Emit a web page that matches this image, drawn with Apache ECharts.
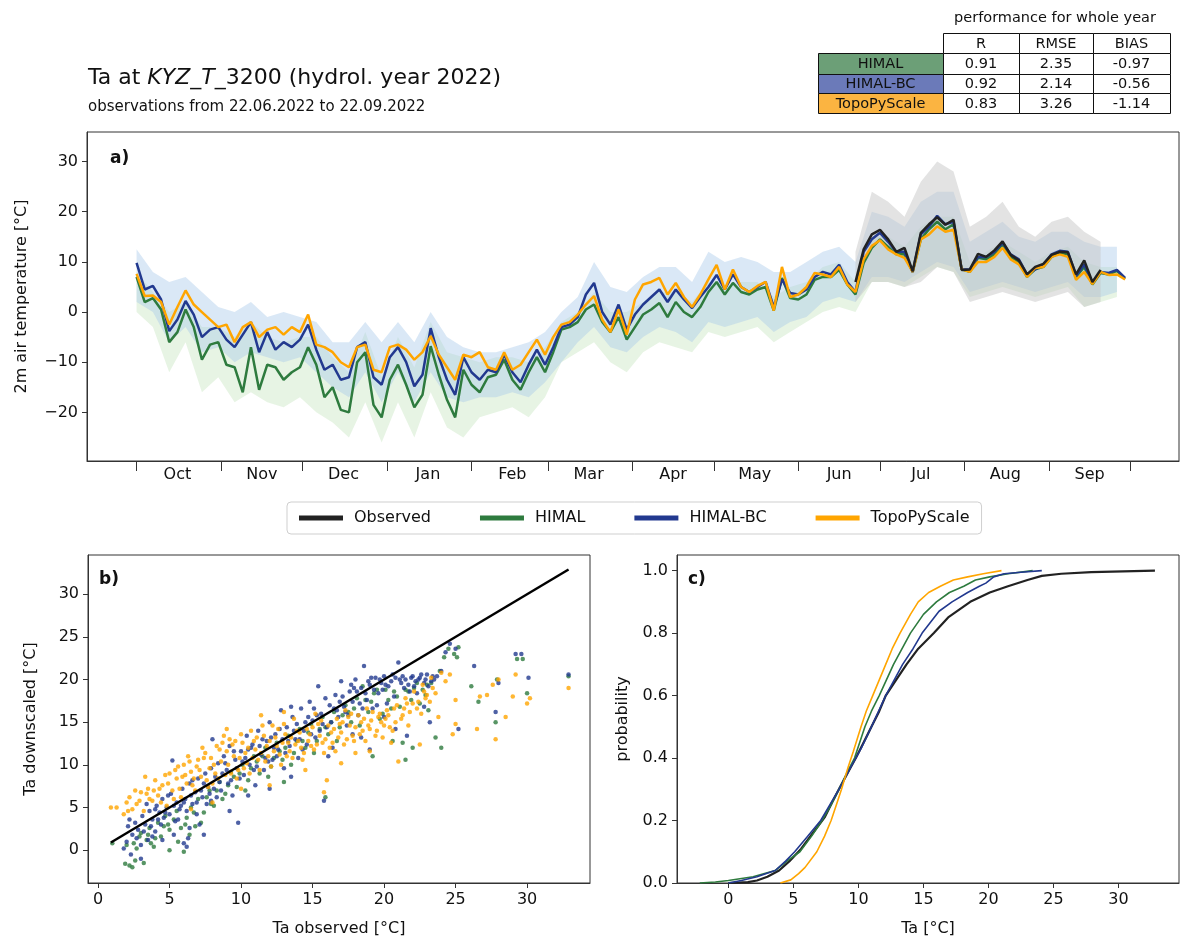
<!DOCTYPE html>
<html>
<head>
<meta charset="utf-8">
<script src="https://cdn.jsdelivr.net/npm/echarts@6.0.0/dist/echarts.min.js"></script>
<style>
  html, body { margin: 0; padding: 0; background: #fff; }
  #chart { width: 1182px; height: 943px; }
</style>
</head>
<body>
<div id="chart"></div>
<script>
const FONT = 'DejaVu Sans';
const C_OBS = '#222222';
const C_HIMAL = '#2e7b3e';
const C_BC = '#22398f';
const C_TOPO = '#ffa500';

// panel a: daily means, read every 3 days starting 1 Oct 2021 (day 0)
const LINE_STEP = 3;
const himalBC = [9.8, 4.5, 5.2, 2.5, -3.8, -1.5, 2.2, -0.5, -5.0, -3.5, -3.0, -5.5, -7.0, -4.5, -2.0, -8.0, -4.0, -7.5, -6.0, -7.0,
  -5.5, -2.5, -7.5, -11.5, -10.5, -13.5, -13.0, -7.0, -6.0, -13.0, -14.5, -9.0, -7.0, -10.0, -14.8, -12.5, -3.2, -9.0, -13.5, -16.5,
  -9.0, -12.0, -13.5, -11.5, -12.0, -8.5, -12.0, -14.0, -10.5, -7.5, -10.5, -7.0, -3.0, -2.5, -1.0, 3.5, 5.8, 0.0, -2.5, 1.5,
  -3.5, -0.5, 1.5, 3.0, 4.5, 2.0, 4.5, 2.5, 0.8, 3.0, 5.0, 7.4, 4.5, 7.5, 5.0, 4.0, 5.0, 6.0, 1.0, 6.5,
  3.8, 3.5, 4.5, 7.0, 8.0, 7.5, 9.4, 6.0, 4.0, 12.0, 14.5, 15.8, 14.0, 12.0, 12.0, 8.0, 15.5, 17.0, 19.2, 17.5,
  18.0, 8.5, 8.5, 11.0, 11.0, 12.0, 13.8, 11.5, 10.5, 7.5, 8.5, 9.5, 11.5, 12.2, 12.0, 7.2, 9.5, 5.8, 8.0, 7.8,
  8.4, 6.8];
const himal = [7.0, 2.0, 2.8, 0.5, -6.0, -4.0, 0.5, -3.0, -9.5, -6.5, -6.0, -10.5, -11.0, -16.0, -7.0, -15.5, -10.5, -11.0, -13.5, -12.0,
  -11.0, -7.0, -10.5, -17.0, -15.0, -19.5, -20.0, -10.0, -8.0, -18.5, -21.0, -13.5, -10.5, -14.5, -19.0, -16.5, -6.8, -12.5, -17.5, -21.0,
  -11.5, -14.5, -16.0, -13.0, -12.5, -9.5, -13.5, -15.5, -12.0, -9.0, -12.0, -8.0, -3.5, -3.0, -2.0, 0.5, 1.5, -2.0, -4.0, -1.0,
  -5.5, -3.0, -0.5, 0.5, 1.8, -1.0, 2.0, 0.0, -1.0, 1.0, 4.0, 6.0, 3.5, 5.8, 4.0, 3.5, 4.5, 5.0, 0.3, 6.8,
  2.8, 2.5, 3.5, 6.4, 7.0, 7.0, 8.4, 5.5, 3.5, 9.8, 12.8, 14.5, 13.0, 11.5, 11.5, 8.0, 14.5, 16.5, 18.0, 16.5,
  17.5, 8.5, 8.0, 10.8, 10.5, 11.5, 13.5, 11.0, 10.0, 7.0, 8.5, 9.0, 11.0, 11.8, 11.5, 7.0, 9.0, 5.5, 7.8, 7.5,
  8.2, 6.6];
const topo = [7.6, 3.2, 3.3, 2.0, -2.5, 1.0, 4.3, 1.5, 0.0, -1.5, -3.0, -2.5, -6.0, -3.0, -2.0, -5.0, -3.5, -3.0, -4.5, -3.0,
  -4.0, -0.5, -6.5, -7.0, -8.0, -10.0, -11.0, -7.0, -6.5, -11.5, -12.0, -7.0, -6.5, -7.5, -9.5, -8.0, -4.8, -8.5, -11.0, -13.5,
  -8.5, -9.0, -8.0, -11.0, -11.5, -8.0, -11.5, -10.5, -8.0, -5.5, -8.5, -5.0, -2.5, -2.0, -0.5, 1.5, 3.2, -1.5, -4.0, 0.5,
  -4.5, 2.5, 5.5, 6.0, 6.8, 3.5, 5.8, 3.0, 1.0, 3.5, 6.5, 9.4, 4.5, 8.5, 5.0, 4.0, 5.2, 6.0, 0.3, 9.0,
  3.0, 3.5, 5.0, 7.8, 7.5, 7.0, 9.0, 5.5, 4.0, 10.5, 13.2, 14.3, 12.5, 11.5, 10.8, 8.0, 14.5, 15.5, 17.1, 16.0,
  16.4, 8.5, 8.0, 10.0, 10.0, 11.0, 12.8, 10.5, 9.5, 7.0, 8.8, 9.0, 11.0, 11.5, 11.0, 6.4, 8.0, 5.6, 8.0, 7.4,
  7.5, 6.5];
const OBS_START = 264; // 22.06.2022
const observed = [6.0, 12.5, 15.5, 16.4, 14.5, 12.0, 12.8, 8.1, 15.8, 17.5, 18.9, 17.4, 18.4, 8.4, 8.5, 11.6, 11.0, 12.3, 14.1, 11.4,
  10.3, 7.5, 9.0, 9.6, 11.4, 12.0, 11.9, 7.5, 10.3, 6.0, 8.4];

// spread of the hourly values, read every 6 days
const BAND_STEP = 6;
const bcLo = [2, 0, -6, -3, -8, -7, -10, -8, -9, -10, -9, -12, -15, -17, -12, -18, -12, -18, -12, -17,
  -18, -17, -17, -16, -17, -14, -10, -6, -3, -7, -8, -5, -3, -4, -6, -2, -3, -2, -1, -4,
  -2, -1, 2, 3, 2, 7, 7, 6, 8, 10, 9, 4, 5, 6, 5, 4, 5, 6, 3, 3, 4];
const bcHi = [12.5, 8, 6, 7, 4, 1, 0, 2, -1, 0, -1, -2, -6, -6, -2, -6, -2, -6, 0, -5,
  -7, -8, -8, -7, -6, -4, 0, 3, 10, 5, 4, 7, 9, 9, 6, 12, 10, 11, 10, 8,
  8, 10, 12, 13, 10, 20, 19, 17, 22, 24, 24, 14, 16, 18, 15, 14, 16, 16, 14, 13, 13];
const himalLo = [0, -3, -12, -6, -16, -13, -18, -16, -18, -19, -17, -20, -22, -25, -18, -26, -18, -25, -16, -23,
  -25, -21, -20, -19, -21, -17, -10, -8, -6, -10, -12, -8, -6, -7, -8, -4, -5, -4, -3, -6,
  -4, -2, 0, 1, 0, 6, 6, 5, 7, 9, 8, 3, 4, 5, 4, 3, 4, 5, 1, 2, 3];
const himalHi = [8, 4, 0, 2, -3, -3, -5, -2, -5, -6, -5, -5, -9, -12, -4, -13, -5, -11, -2, -8,
  -9, -10, -9, -9, -10, -7, -2, 0, 4, 0, 0, 2, 4, 4, 2, 6, 5, 6, 6, 3,
  5, 6, 9, 10, 6, 15, 15, 13, 17, 19, 19, 10, 12, 14, 12, 10, 12, 13, 10, 9, 9];
const obsLo = [2, 6, 6, 5, 6, 9, 8, 2, 3, 4, 3, 2, 3, 4, 1, 2];
const obsHi = [12, 24, 22, 19, 26, 30, 28, 17, 19, 22, 17, 15, 18, 19, 16, 14];

// panel b: downscaled vs observed
const scatHimal = [[1.0,0.8],[1.9,-1.6],[2.0,0.6],[2.2,-1.8],[2.4,-2.0],[2.6,-1.2],[2.7,0.2],[2.9,1.6],[3.2,-1.5],[3.4,1.2],
  [3.6,2.6],[3.9,0.4],[4.2,3.2],[4.4,1.6],[4.7,4.0],[5.0,2.4],[5.3,3.6],[5.6,1.0],[5.8,2.6],[6.0,-0.2],
  [6.2,3.8],[6.5,5.0],[6.8,2.8],[7.0,6.0],[7.4,4.4],[7.8,7.0],[8.1,5.2],[8.5,8.0],[8.9,6.6],[9.3,9.2],
  [9.7,7.4],[10.1,10.0],[10.5,8.2],[10.9,11.0],[11.3,9.0],[11.7,12.0],[12.1,9.8],[12.5,12.6],[12.9,10.6],[13.3,13.4],
  [13.7,11.4],[14.1,14.2],[14.5,12.0],[14.9,14.8],[15.3,12.8],[15.7,15.6],[16.1,13.6],[16.5,16.2],[16.9,14.4],[17.3,17.0],
  [17.7,15.0],[18.1,17.8],[18.5,19.2],[18.9,16.2],[19.3,18.4],[19.7,15.4],[20.1,18.8],[20.5,16.6],[20.9,18.0],[21.3,12.6],
  [21.7,18.6],[22.1,19.0],[22.5,17.2],[22.9,18.2],[23.3,19.6],[23.6,13.2],[23.9,21.0],[24.2,22.6],[24.5,23.6],[24.9,23.0],
  [25.1,22.6],[25.2,23.8],[24.0,12.0],[19.2,11.0],[20.6,12.8],[22.0,12.0],[26.1,19.2],[26.6,17.4],[27.8,15.0],[27.9,20.0],
  [29.3,22.4],[29.7,22.4],[30.0,18.4],[32.9,20.4],[21.5,10.6],[15.9,6.2],[13.0,8.0],[7.2,3.2],[5.0,0.0],[3.0,2.0],
  [3.7,0.8],[4.6,2.8],[5.5,4.6],[6.4,1.8],[7.6,6.2],[8.7,6.0],[9.5,8.6],[10.3,7.0],[11.1,10.4],[11.9,8.6],
  [12.7,11.6],[13.5,10.0],[14.3,12.8],[15.1,11.4],[15.9,14.4],[16.7,12.8],[17.5,16.2],[18.3,14.6],[19.1,17.4],[19.9,16.0],
  [20.7,18.6],[21.1,16.8],[21.9,17.6],[22.7,18.8],[23.1,16.4],[2.5,0.8],[3.5,1.8],[4.0,1.4],[4.9,3.0],[6.1,3.0],
  [6.7,4.4],[7.9,5.4],[8.3,7.0],[9.1,7.6],[9.9,9.0],[10.7,9.6],[11.5,11.0],[12.3,10.8],[13.1,12.0],[13.9,12.8],
  [14.7,13.8],[15.5,14.2],[16.3,15.0],[17.1,15.8],[17.9,16.6],[18.7,17.6],[19.5,18.8],[20.3,17.6],[21.5,18.8],[22.3,19.6],
  [23.0,19.4]];
const scatBC = [[1.8,0.2],[2.0,1.0],[2.1,2.8],[2.3,-0.5],[2.4,1.8],[2.6,3.2],[2.8,2.4],[3.0,0.6],[3.1,4.0],[3.3,3.0],
  [3.5,1.2],[3.6,4.6],[3.8,3.6],[4.0,2.2],[4.1,5.2],[4.3,4.4],[4.5,6.0],[4.6,3.8],[4.8,5.0],[5.0,4.2],
  [5.1,6.6],[5.2,10.5],[5.3,1.8],[5.5,5.6],[5.7,4.8],[5.9,7.2],[6.0,0.8],[6.1,6.0],[6.3,1.4],[6.4,7.8],
  [6.6,5.4],[6.8,6.8],[7.0,8.4],[7.1,3.0],[7.3,6.2],[7.5,9.0],[7.7,7.4],[7.9,5.8],[8.0,13.0],[8.2,8.6],
  [8.4,10.2],[8.6,7.0],[8.8,11.0],[9.0,9.4],[9.2,12.2],[9.4,6.4],[9.6,10.6],[9.8,3.2],[10.0,11.6],[10.2,8.8],
  [10.4,13.4],[10.6,10.0],[10.8,12.4],[11.0,7.6],[11.2,14.0],[11.4,11.2],[11.6,9.4],[11.8,12.8],[12.0,15.0],[12.2,10.6],
  [12.4,13.6],[12.6,11.8],[12.8,16.4],[13.0,9.6],[13.2,14.4],[13.4,12.2],[13.6,15.6],[13.8,13.0],[14.0,10.8],[14.2,16.6],
  [14.4,14.0],[14.6,12.4],[14.8,17.4],[15.0,15.2],[15.2,13.2],[15.4,19.2],[15.6,16.0],[15.8,5.8],[16.0,14.4],[16.2,17.0],
  [16.4,12.0],[16.6,18.2],[16.8,15.6],[17.0,19.8],[17.2,16.8],[17.4,14.6],[17.6,18.6],[17.8,17.4],[18.0,20.0],[18.2,15.8],
  [18.4,19.0],[18.6,21.6],[18.8,17.6],[19.0,19.4],[19.2,16.6],[19.4,20.2],[19.6,18.4],[19.8,19.6],[20.0,20.4],[20.2,17.2],
  [20.5,19.8],[20.8,20.2],[21.0,22.0],[21.2,19.6],[21.5,20.0],[21.8,18.6],[22.0,20.4],[22.2,19.8],[22.5,20.2],[22.8,19.6],
  [23.0,20.6],[23.2,15.0],[23.5,20.0],[24.0,21.0],[24.3,23.2],[24.6,24.2],[25.0,23.6],[25.2,14.2],[22.8,16.8],[21.6,13.4],
  [29.2,23.0],[29.6,23.0],[30.1,20.2],[32.9,20.6],[28.0,19.6],[27.8,16.2],[26.3,21.6],[20.8,14.2],[19.0,11.8],[18.4,13.2],
  [13.5,8.6],[12.0,7.2],[10.5,6.4],[9.2,4.6],[3.0,-1.0],[3.8,1.6],[4.5,1.2],[6.2,0.4],[3.4,5.4],[4.0,4.8],
  [4.4,3.0],[4.9,6.4],[5.4,3.4],[5.8,5.2],[6.2,4.6],[6.6,8.2],[6.9,4.2],[7.2,7.0],[7.6,5.4],[7.9,9.6],
  [8.3,6.2],[8.7,9.0],[9.1,7.8],[9.5,11.6],[9.9,8.4],[10.3,10.8],[10.7,12.0],[11.1,9.8],[11.5,13.0],[11.9,10.4],
  [12.3,12.0],[12.7,14.2],[13.1,11.4],[13.5,16.8],[13.9,14.8],[14.3,11.8],[14.7,15.6],[15.1,16.6],[15.5,14.0],[15.9,17.8],
  [16.3,15.0],[16.7,16.4],[17.1,18.0],[17.5,15.8],[17.9,19.0],[18.3,17.2],[18.7,18.4],[19.1,20.2],[19.5,17.0],[19.9,18.8],
  [20.3,19.2],[20.7,18.0],[21.1,20.0],[21.4,19.0],[21.9,20.2],[22.3,18.4],[22.6,20.6],[23.1,19.2],[23.4,20.4],[20.0,15.6],
  [17.8,13.6],[16.1,11.0],[7.4,1.8],[6.4,2.6],[2.2,3.6],[2.7,1.4],[3.2,2.2],[3.7,2.8],[4.2,3.6],[4.7,4.4],
  [5.3,5.2],[5.6,3.6],[6.0,5.6],[6.5,6.4],[6.9,5.6],[7.4,7.8],[7.8,6.6],[8.1,7.2],[8.5,8.0],[8.9,10.2],
  [9.3,8.2],[9.7,9.6],[10.1,10.4],[10.5,11.8],[10.9,9.4],[11.3,12.2],[11.7,10.8],[12.1,13.2],[12.5,11.0],[12.9,13.0],
  [13.3,12.8],[13.7,14.0],[14.1,13.0],[14.5,15.0],[14.9,13.6],[15.3,15.8],[15.7,14.8],[16.5,16.6],[16.9,17.4],[17.3,16.2],
  [17.7,19.4],[18.1,18.6],[18.5,16.6],[18.9,19.8],[19.3,18.8],[19.7,20.0],[20.1,19.4],[20.6,20.6],[21.3,20.4],[21.7,19.4],
  [22.1,19.2],[22.4,20.0],[22.9,20.0],[23.3,19.8],[23.7,20.4]];
const scatTopo = [[0.9,5.0],[1.3,5.0],[1.8,4.2],[2.0,5.6],[2.2,6.2],[2.4,4.8],[2.7,5.4],[3.0,6.8],[3.2,4.6],[3.5,7.2],
  [3.8,5.8],[4.0,8.2],[4.2,6.4],[4.5,7.6],[4.8,5.2],[5.0,9.0],[5.2,7.0],[5.5,8.4],[5.8,6.2],[6.0,10.0],
  [6.2,7.8],[6.5,9.2],[6.8,7.0],[7.0,10.6],[7.2,8.6],[7.5,11.4],[7.8,9.6],[8.0,7.8],[8.3,12.2],[8.6,10.4],
  [8.9,8.8],[9.2,13.0],[9.5,11.0],[9.8,9.4],[10.1,12.6],[10.4,10.2],[10.7,14.0],[11.0,11.8],[11.3,9.4],[11.6,13.4],
  [11.9,11.0],[12.2,14.6],[12.5,12.2],[12.8,10.0],[13.1,13.6],[13.4,11.6],[13.7,15.4],[14.0,12.8],[14.3,10.6],[14.6,14.2],
  [14.9,12.2],[15.2,16.0],[15.5,13.4],[15.8,11.4],[16.1,14.6],[16.4,12.6],[16.7,15.4],[17.0,13.8],[17.3,16.4],[17.6,14.6],
  [17.9,12.8],[18.2,15.8],[18.5,14.0],[18.8,16.6],[19.1,15.2],[19.4,13.4],[19.7,16.0],[20.0,14.6],[20.3,15.8],[20.6,14.0],
  [20.9,17.0],[21.2,15.4],[21.5,17.8],[21.8,16.2],[22.1,18.6],[22.4,17.4],[22.7,19.4],[23.0,18.2],[23.3,20.2],[23.6,18.4],
  [24.0,20.8],[24.3,19.8],[24.6,20.6],[25.0,14.8],[25.0,17.6],[22.5,12.4],[21.0,10.4],[19.0,11.6],[16.0,8.2],[15.8,6.8],
  [12.0,7.6],[10.0,7.2],[8.0,5.6],[6.5,4.8],[26.5,14.2],[26.7,18.0],[27.2,18.2],[27.8,13.0],[27.6,19.4],[28.5,15.6],
  [29.2,20.6],[29.0,18.0],[30.0,17.2],[30.2,17.8],[32.9,19.0],[28.0,20.0],[3.3,8.6],[2.6,7.0],[9.0,14.2],[11.4,15.8],
  [13.0,16.2],[14.5,9.4],[17.0,10.2],[18.0,11.4],[20.5,12.6],[23.8,15.6],[24.8,13.6],[3.6,6.0],[4.3,7.2],[4.7,8.8],
  [5.3,6.0],[5.6,9.8],[5.9,8.6],[6.3,11.0],[6.6,7.6],[6.9,9.8],[7.3,12.0],[7.6,8.2],[7.9,10.8],[8.2,9.0],
  [8.5,11.8],[8.8,13.4],[9.1,10.0],[9.4,12.4],[9.7,8.4],[10.0,13.6],[10.3,11.4],[10.6,9.0],[10.9,12.8],[11.2,10.6],
  [11.5,14.6],[11.8,12.2],[12.1,9.8],[12.4,13.2],[12.7,11.2],[13.0,14.8],[13.3,12.6],[13.6,10.8],[13.9,14.0],[14.2,12.0],
  [14.8,13.6],[15.1,11.8],[15.4,14.8],[15.7,12.6],[16.3,13.8],[16.6,11.6],[16.9,14.8],[17.2,12.4],[17.5,15.6],[17.8,13.4],
  [18.4,15.0],[18.7,12.8],[19.0,14.2],[19.6,15.6],[19.9,13.2],[20.2,16.4],[20.8,15.0],[21.4,16.6],[21.7,14.6],[22.0,17.2],
  [22.6,16.0],[22.9,17.8],[23.4,19.0],[2.1,4.6],[2.9,5.8],[3.4,6.6],[3.9,7.0],[4.4,5.6],[4.9,7.8],[5.4,9.4],
  [5.7,7.2],[6.1,8.8],[6.4,10.4],[6.7,8.4],[7.1,9.4],[7.4,10.8],[7.7,7.4],[8.1,10.0],[8.4,8.4],[8.7,12.6],
  [9.0,11.6],[9.3,9.0],[9.6,12.8],[9.9,10.8],[10.2,9.6],[10.5,12.0],[10.8,10.8],[11.1,13.2],[11.4,11.4],[11.7,10.4],
  [12.0,12.8],[12.3,11.6],[12.6,14.2],[12.9,12.6],[13.2,11.0],[13.5,13.2],[13.8,12.4],[14.1,13.8],[14.4,11.4],[14.7,12.8],
  [15.0,14.4],[15.3,12.4],[15.6,15.2],[15.9,13.0],[16.2,12.0],[16.5,14.2],[16.8,13.2],[17.1,15.0],[17.4,13.0],[17.7,16.0],
  [18.0,14.4],[18.3,13.6],[18.6,15.4],[18.9,14.6],[19.2,16.2],[19.5,14.0],[19.8,15.0],[20.1,15.4],[20.4,14.4],[20.7,16.6],
  [21.3,15.8],[21.6,17.2],[22.3,16.6],[22.8,18.6],[23.2,17.4]];
const oneToOne = [[0.9, 0.9], [32.9, 32.9]];

// panel c: empirical cdf, [Ta, probability]
const cdfObs = [[0.0,0.0],[1.5,0.003],[2.2,0.008],[3.0,0.02],[3.9,0.04],[4.7,0.07],[5.6,0.11],[6.5,0.16],[7.4,0.21],[8.0,0.26],
  [8.5,0.30],[9.4,0.37],[9.8,0.40],[10.4,0.45],[11.0,0.50],[11.6,0.55],[12.1,0.60],[12.9,0.65],[13.7,0.70],[14.6,0.75],
  [15.8,0.80],[16.9,0.85],[18.6,0.90],[20.1,0.93],[21.5,0.95],[23.0,0.97],[24.1,0.983],[25.6,0.99],[27.9,0.995],[32.8,1.0]];
const cdfHimal = [[-2.2,0.0],[-1.0,0.003],[0.0,0.008],[1.9,0.02],[3.6,0.04],[4.5,0.07],[5.5,0.10],[6.4,0.15],[7.2,0.20],[7.9,0.25],
  [8.5,0.30],[9.2,0.36],[9.7,0.40],[10.5,0.50],[11.0,0.55],[11.6,0.60],[12.7,0.70],[14.0,0.80],[15.0,0.86],[16.0,0.90],
  [17.0,0.93],[18.1,0.95],[19.0,0.97],[20.1,0.98],[21.5,0.99],[23.4,1.0]];
const cdfBC = [[0.0,0.0],[1.0,0.008],[2.2,0.02],[3.6,0.04],[4.4,0.07],[5.1,0.10],[6.1,0.15],[7.1,0.20],[7.8,0.25],[8.5,0.30],
  [9.4,0.37],[10.2,0.43],[11.0,0.50],[12.1,0.60],[13.4,0.70],[14.2,0.75],[14.9,0.80],[16.2,0.87],[17.2,0.90],[18.4,0.93],
  [19.3,0.95],[19.8,0.96],[20.4,0.98],[21.2,0.99],[22.5,0.995],[24.1,1.0]];
const cdfTopo = [[4.0,0.0],[4.8,0.01],[5.4,0.03],[5.9,0.05],[6.8,0.10],[7.4,0.15],[7.9,0.20],[8.3,0.25],[8.7,0.30],[9.2,0.37],
  [9.6,0.42],[10.2,0.50],[10.6,0.55],[11.1,0.60],[12.1,0.70],[12.6,0.75],[13.2,0.80],[14.0,0.86],[14.6,0.90],[15.4,0.93],
  [16.3,0.95],[17.3,0.97],[18.4,0.98],[19.6,0.99],[21.0,1.0]];

// performance table
const tableRows = ['HIMAL', 'HIMAL-BC', 'TopoPyScale'];
const tableCols = ['R', 'RMSE', 'BIAS'];
const statR = ['0.91', '0.92', '0.83'];
const statRMSE = ['2.35', '2.14', '3.26'];
const statBIAS = ['-0.97', '-0.56', '-1.14'];

const monthNames = ['Oct', 'Nov', 'Dec', 'Jan', 'Feb', 'Mar', 'Apr', 'May', 'Jun', 'Jul', 'Aug', 'Sep'];

const DAY = 86400000;
const t0 = Date.UTC(2021, 9, 1);
const monthStarts = [];
const monthMids = [];
for (let m = 0; m <= 12; m++) {
  const d = (Date.UTC(2021, 9 + m, 1) - t0) / DAY;
  monthStarts.push(d);
  if (m < 12) monthMids.push(d + 15);
}
const monthLabel = (v) => monthNames[monthMids.indexOf(v)] || '';
const minus = (v) => String(v).replace('-', '\u2212');

const pairs = (arr, start, step) => arr.map((v, i) => [start + i * step, v]);

// one filled polygon between the lo and hi readings, placed with the axis scale
function band(lo, hi, start, step, color, op) {
  return {
    type: 'custom', xAxisIndex: 0, yAxisIndex: 0, silent: true, z: 1,
    data: [[start, lo[0], hi[0]]],
    renderItem: (params, api) => {
      const top = hi.map((v, i) => api.coord([start + i * step, v]));
      const bot = lo.map((v, i) => api.coord([start + i * step, v])).reverse();
      return { type: 'polygon', shape: { points: top.concat(bot) }, style: { fill: color, opacity: op } };
    }
  };
}

const lineA = (name, color, data) => ({
  name: name, type: 'line', xAxisIndex: 0, yAxisIndex: 0, data: data, symbol: 'none', color: color,
  lineStyle: { color: color, width: 2.5 }, z: 5
});
const scatter = (name, color, data) => ({
  name: name, type: 'scatter', xAxisIndex: 1, yAxisIndex: 1, data: data, symbol: 'circle', symbolSize: 4.5,
  color: color, itemStyle: { color: color }
});
const cdfLine = (name, color, data, w) => ({
  name: name, type: 'line', xAxisIndex: 2, yAxisIndex: 2, data: data, symbol: 'none', color: color,
  lineStyle: { color: color, width: w }
});

const tickStyle = { color: '#111', fontSize: 16, fontFamily: FONT };
const axisLineStyle = { show: true, onZero: false, lineStyle: { color: '#333', width: 1 } };

function valueAxis(grid, min, max, labels, fmt, extra) {
  return Object.assign({
    gridIndex: grid, type: 'value', min: min, max: max,
    axisLine: axisLineStyle,
    axisTick: { show: true, length: 5, customValues: labels, lineStyle: { color: '#333' } },
    axisLabel: Object.assign({ customValues: labels, formatter: fmt, margin: 9 }, tickStyle),
    splitLine: { show: false },
    nameLocation: 'middle',
    nameTextStyle: { fontSize: 16, fontFamily: FONT, color: '#111' }
  }, extra || {});
}

// table graphic
const tX = [818, 943, 1019, 1093, 1170];
const tY = [33, 53, 74, 93, 113];
const rowFill = ['#6c9f77', '#6b7ab9', '#fbb441'];
const tableEls = [];
const cellFont = { fontSize: 14.5, fontFamily: FONT, fill: '#111', align: 'center', verticalAlign: 'middle' };
tableEls.push({ type: 'text', x: 1055, y: 18, style: Object.assign({ text: 'performance for whole year' }, cellFont) });
tableCols.forEach((c, j) => {
  tableEls.push({ type: 'rect', shape: { x: tX[j + 1] + 0.5, y: tY[0] + 0.5, width: tX[j + 2] - tX[j + 1], height: tY[1] - tY[0] },
    style: { fill: '#fff', stroke: '#111', lineWidth: 1 } });
  tableEls.push({ type: 'text', x: (tX[j + 1] + tX[j + 2]) / 2, y: (tY[0] + tY[1]) / 2 + 1, style: Object.assign({ text: c }, cellFont) });
});
const stats = [statR, statRMSE, statBIAS];
tableRows.forEach((r, i) => {
  const y0 = tY[i + 1], y1 = tY[i + 2];
  for (let j = 0; j < 4; j++) {
    tableEls.push({ type: 'rect', shape: { x: tX[j] + 0.5, y: y0 + 0.5, width: tX[j + 1] - tX[j], height: y1 - y0 },
      style: { fill: j === 0 ? rowFill[i] : '#fff', stroke: '#111', lineWidth: 1 } });
    const txt = j === 0 ? r : stats[j - 1][i];
    tableEls.push({ type: 'text', x: (tX[j] + tX[j + 1]) / 2, y: (y0 + y1) / 2 + 1, style: Object.assign({ text: txt }, cellFont) });
  }
});
const panelLabel = (t, x, y) => ({ type: 'text', x: x, y: y,
  style: { text: t, fontSize: 17, fontWeight: 'bold', fontFamily: FONT, fill: '#111', verticalAlign: 'middle' } });

const chart = echarts.init(document.getElementById('chart'), null, { renderer: 'canvas' });
chart.setOption({
  animation: false,
  backgroundColor: '#fff',
  textStyle: { fontFamily: FONT },
  title: [
    { text: '{n|Ta at }{i|KYZ_T}{n|_3200 (hydrol. year 2022)}', left: 88, top: 67, padding: 0,
      textStyle: { rich: {
        n: { fontSize: 22, fontFamily: FONT, color: '#111', fontWeight: 'normal' },
        i: { fontSize: 22, fontFamily: FONT, color: '#111', fontWeight: 'normal', fontStyle: 'italic' } } } },
    { text: 'observations from 22.06.2022 to 22.09.2022', left: 88, top: 100, padding: 0,
      textStyle: { fontSize: 15, fontFamily: FONT, color: '#111', fontWeight: 'normal' } }
  ],
  legend: {
    data: ['Observed', 'HIMAL', 'HIMAL-BC', 'TopoPyScale'],
    left: 287, top: 502, icon: 'rect', itemWidth: 44, itemHeight: 5, itemGap: 49,
    padding: [8, 12], borderColor: '#cfcfcf', borderWidth: 1, borderRadius: 4,
    textStyle: { fontSize: 16, fontFamily: FONT, color: '#111', padding: [0, 0, 0, 6] }
  },
  grid: [
    { left: 87, top: 132, width: 1092, height: 329, show: true, borderColor: '#333', borderWidth: 1 },
    { left: 88, top: 555, width: 502, height: 328, show: true, borderColor: '#333', borderWidth: 1 },
    { left: 677, top: 555, width: 502, height: 328, show: true, borderColor: '#333', borderWidth: 1 }
  ],
  xAxis: [
    { gridIndex: 0, type: 'value', min: -18.2, max: 382.8,
      axisLine: axisLineStyle,
      axisTick: { show: true, length: 10, customValues: monthStarts, lineStyle: { color: '#333' } },
      axisLabel: Object.assign({ customValues: monthMids, formatter: monthLabel, margin: 6 }, tickStyle),
      splitLine: { show: false } },
    valueAxis(1, -0.7, 34.4, [0, 5, 10, 15, 20, 25, 30], (v) => String(v),
      { name: 'Ta observed [°C]', nameGap: 38 }),
    valueAxis(2, -3.95, 34.65, [0, 5, 10, 15, 20, 25, 30], (v) => String(v),
      { name: 'Ta [°C]', nameGap: 38 })
  ],
  yAxis: [
    valueAxis(0, -29.7, 35.9, [-20, -10, 0, 10, 20, 30], minus,
      { name: '2m air temperature [°C]', nameGap: 57 }),
    valueAxis(1, -3.85, 34.6, [0, 5, 10, 15, 20, 25, 30], (v) => String(v),
      { name: 'Ta downscaled [°C]', nameGap: 49 }),
    valueAxis(2, 0, 1.05, [0, 0.2, 0.4, 0.6, 0.8, 1.0], (v) => v.toFixed(1),
      { name: 'probability', nameGap: 46 })
  ],
  graphic: tableEls.concat([
    panelLabel('a)', 110, 159),
    panelLabel('b)', 99, 580),
    panelLabel('c)', 688, 580)
  ]),
  series: [
    band(himalLo, himalHi, 0, BAND_STEP, '#bfe3b9', 0.38),
    band(bcLo, bcHi, 0, BAND_STEP, '#a6c8ea', 0.42),
    band(obsLo, obsHi, OBS_START, BAND_STEP, '#c4c4c4', 0.48),
    lineA('HIMAL', C_HIMAL, pairs(himal, 0, LINE_STEP)),
    lineA('HIMAL-BC', C_BC, pairs(himalBC, 0, LINE_STEP)),
    lineA('TopoPyScale', C_TOPO, pairs(topo, 0, LINE_STEP)),
    lineA('Observed', C_OBS, pairs(observed, OBS_START, LINE_STEP)),
    scatter('HIMAL', C_HIMAL, scatHimal),
    scatter('HIMAL-BC', C_BC, scatBC),
    scatter('TopoPyScale', C_TOPO, scatTopo),
    { name: 'Observed', type: 'line', xAxisIndex: 1, yAxisIndex: 1, data: oneToOne, symbol: 'none',
      color: '#000', lineStyle: { color: '#000', width: 2.5 } },
    cdfLine('Observed', C_OBS, cdfObs, 2.2),
    cdfLine('HIMAL', C_HIMAL, cdfHimal, 1.6),
    cdfLine('HIMAL-BC', C_BC, cdfBC, 1.6),
    cdfLine('TopoPyScale', C_TOPO, cdfTopo, 1.6)
  ]
});
</script>
</body>
</html>
